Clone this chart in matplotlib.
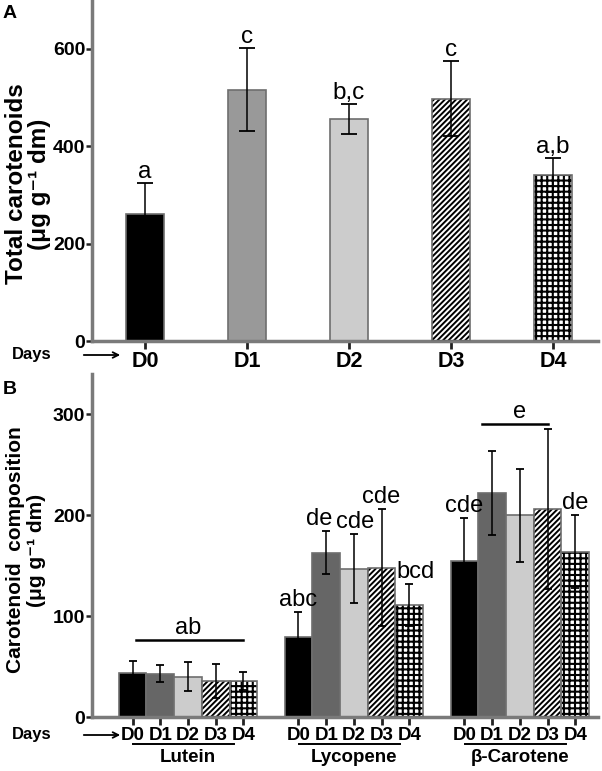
import matplotlib.pyplot as plt
import numpy as np

plt.rcParams['font.family'] = ['Liberation Sans', 'DejaVu Sans']
plt.rcParams['hatch.linewidth'] = 1.4

# ---- panel A data ----
days = ["D0", "D1", "D2", "D3", "D4"]
total_mean = [260, 516, 455, 497, 340]
total_err = [64, 85, 31, 77, 35]
total_letters = ["a", "c", "b,c", "c", "a,b"]

# ---- panel B data ----
pigments = ["Lutein", "Lycopene", "\u03b2-Carotene"]
lutein_mean = [44, 43, 40, 36, 36]
lutein_err = [12, 8.5, 14.5, 17, 9]
lycopene_mean = [79, 163, 147, 148, 111]
lycopene_err = [25, 21, 34, 58, 21]
bcarotene_mean = [155, 222, 200, 206, 164]
bcarotene_err = [42, 42, 46, 79, 36]
lyco_letters = ["abc", "de", "cde", "cde", "bcd"]
bcar_letters = ["cde", None, None, None, "de"]

face_a = ["black", "#999999", "#cccccc", "white", "white"]
face_b = ["black", "#666666", "#cccccc", "white", "white"]
hatches = [None, None, None, "//////", "+++"]
hatch_lw = [0, 0, 0, 1.4, 1.5]
edge = "#6e6e6e"
axis_col = "#7a7a7a"

fig = plt.figure(figsize=(6.02, 7.71), dpi=100)
axA = fig.add_axes([0.153, 0.5577, 0.84, 0.4423])
axB = fig.add_axes([0.153, 0.070, 0.84, 0.445])


def style(ax, xsize):
    for s in ["top", "right"]:
        ax.spines[s].set_visible(False)
    for s in ["left", "bottom"]:
        ax.spines[s].set_color(axis_col)
        ax.spines[s].set_linewidth(2.5)
    ax.tick_params(axis="y", length=4, width=1.8, color="#222222", labelsize=14, pad=1)
    ax.tick_params(axis="x", length=6, width=2, color="#222222", labelsize=xsize, pad=1)
    for lab in ax.get_xticklabels() + ax.get_yticklabels():
        lab.set_fontweight("bold")


def draw_bar(ax, x, h, w, face, hatch, hlw):
    if hatch:
        plt.rcParams['hatch.linewidth'] = hlw
        b = ax.bar(x, h, w, color=face, edgecolor="black", hatch=hatch, linewidth=0, zorder=2)
        for p in b:
            if hasattr(p, "set_hatch_linewidth"):
                p.set_hatch_linewidth(hlw)
        ax.bar(x, h, w, color="none", edgecolor=edge, linewidth=1.2, zorder=3)
    else:
        ax.bar(x, h, w, color=face, edgecolor=edge, linewidth=1.2, zorder=2)


unit = "(\u03bcg g\u207b\u00b9 dm)"

# ---- panel A ----
xa = np.arange(len(days))
for i in range(len(days)):
    draw_bar(axA, xa[i], total_mean[i], 0.38, face_a[i], hatches[i], hatch_lw[i])
axA.errorbar(xa, total_mean, yerr=total_err, fmt="none", ecolor="black",
             elinewidth=1.1, capsize=6, capthick=1.3, zorder=4)
for i in range(len(days)):
    axA.text(xa[i], total_mean[i] + total_err[i] + 1, total_letters[i],
             ha="center", va="bottom", fontsize=17.5)
axA.set_xlim(-0.52, 4.44)
axA.set_ylim(0, 700)
axA.set_yticks([0, 200, 400, 600])
axA.set_xticks(xa)
axA.set_xticklabels(days)
style(axA, 15.5)
fig.text(28 / 602, 1 - 184 / 771, "Total carotenoids\n" + unit, rotation=90,
         ha="center", va="center", multialignment="center", fontsize=17.5,
         fontweight="bold", linespacing=1.0)

# ---- panel B ----
bw = 0.167
offsets = (np.arange(5) - 2) * bw
groups = [lutein_mean, lycopene_mean, bcarotene_mean]
gerrs = [lutein_err, lycopene_err, bcarotene_err]
ticks = []
for g in range(3):
    xs = g + offsets
    ticks.extend(xs)
    for i in range(5):
        draw_bar(axB, xs[i], groups[g][i], bw, face_b[i], hatches[i], hatch_lw[i])
    axB.errorbar(xs, groups[g], yerr=gerrs[g], fmt="none", ecolor="black",
                 elinewidth=1.1, capsize=3, capthick=1.3, zorder=4)

lyco_shift = [0, -0.04, 0.01, 0, 0.04]
for i in range(5):
    x = 1 + offsets[i] + lyco_shift[i]
    axB.text(x, lycopene_mean[i] + lycopene_err[i] + 1, lyco_letters[i],
             ha="center", va="bottom", fontsize=17)
    if bcar_letters[i]:
        x = 2 + offsets[i]
        axB.text(x, bcarotene_mean[i] + bcarotene_err[i] + 1, bcar_letters[i],
                 ha="center", va="bottom", fontsize=17)

# group significance bars
axB.plot([offsets[0] + 0.02, offsets[4] + 0.0], [76, 76], color="black", lw=1.8)
axB.text(offsets[2], 77, "ab", ha="center", va="bottom", fontsize=17)
axB.plot([2 + offsets[1] - 0.06, 2 + offsets[3]], [290, 290], color="black", lw=1.8)
axB.text(2 + offsets[2], 291, "e", ha="center", va="bottom", fontsize=17)

axB.set_xlim(-0.578, 2.47)
axB.set_ylim(0, 340)
axB.set_yticks([0, 100, 200, 300])
axB.set_xticks(ticks)
axB.set_xticklabels(days * 3)
style(axB, 13.5)
fig.text(26 / 602, 1 - 550 / 771, "Carotenoid  composition\n" + unit, rotation=90,
         ha="center", va="center", multialignment="center", fontsize=15,
         fontweight="bold", linespacing=1.15)

trans = axB.get_xaxis_transform()
for g in range(3):
    axB.plot([g - 0.33, g + 0.28], [-0.079, -0.079], color="black", lw=1.4,
             transform=trans, clip_on=False)
    axB.text(g, -0.117, pigments[g], transform=trans, ha="center", va="center",
             fontsize=13.5, fontweight="bold")

# Days arrows
for yf in [1 - 355 / 771, 1 - 735 / 771]:
    fig.text(12 / 602, yf, "Days", ha="left", va="center", fontsize=12, fontweight="bold")
    plt.annotate("", xy=(123 / 602, yf), xytext=(81 / 602, yf), xycoords="figure fraction",
                 arrowprops=dict(arrowstyle="->", color="black", lw=1.3))

fig.text(3 / 602, 1 - 14 / 771, "A", ha="left", va="center", fontsize=14, fontweight="bold")
fig.text(3 / 602, 1 - 390 / 771, "B", ha="left", va="center", fontsize=14, fontweight="bold")

plt.savefig("out.png", dpi=100)
plt.close()
